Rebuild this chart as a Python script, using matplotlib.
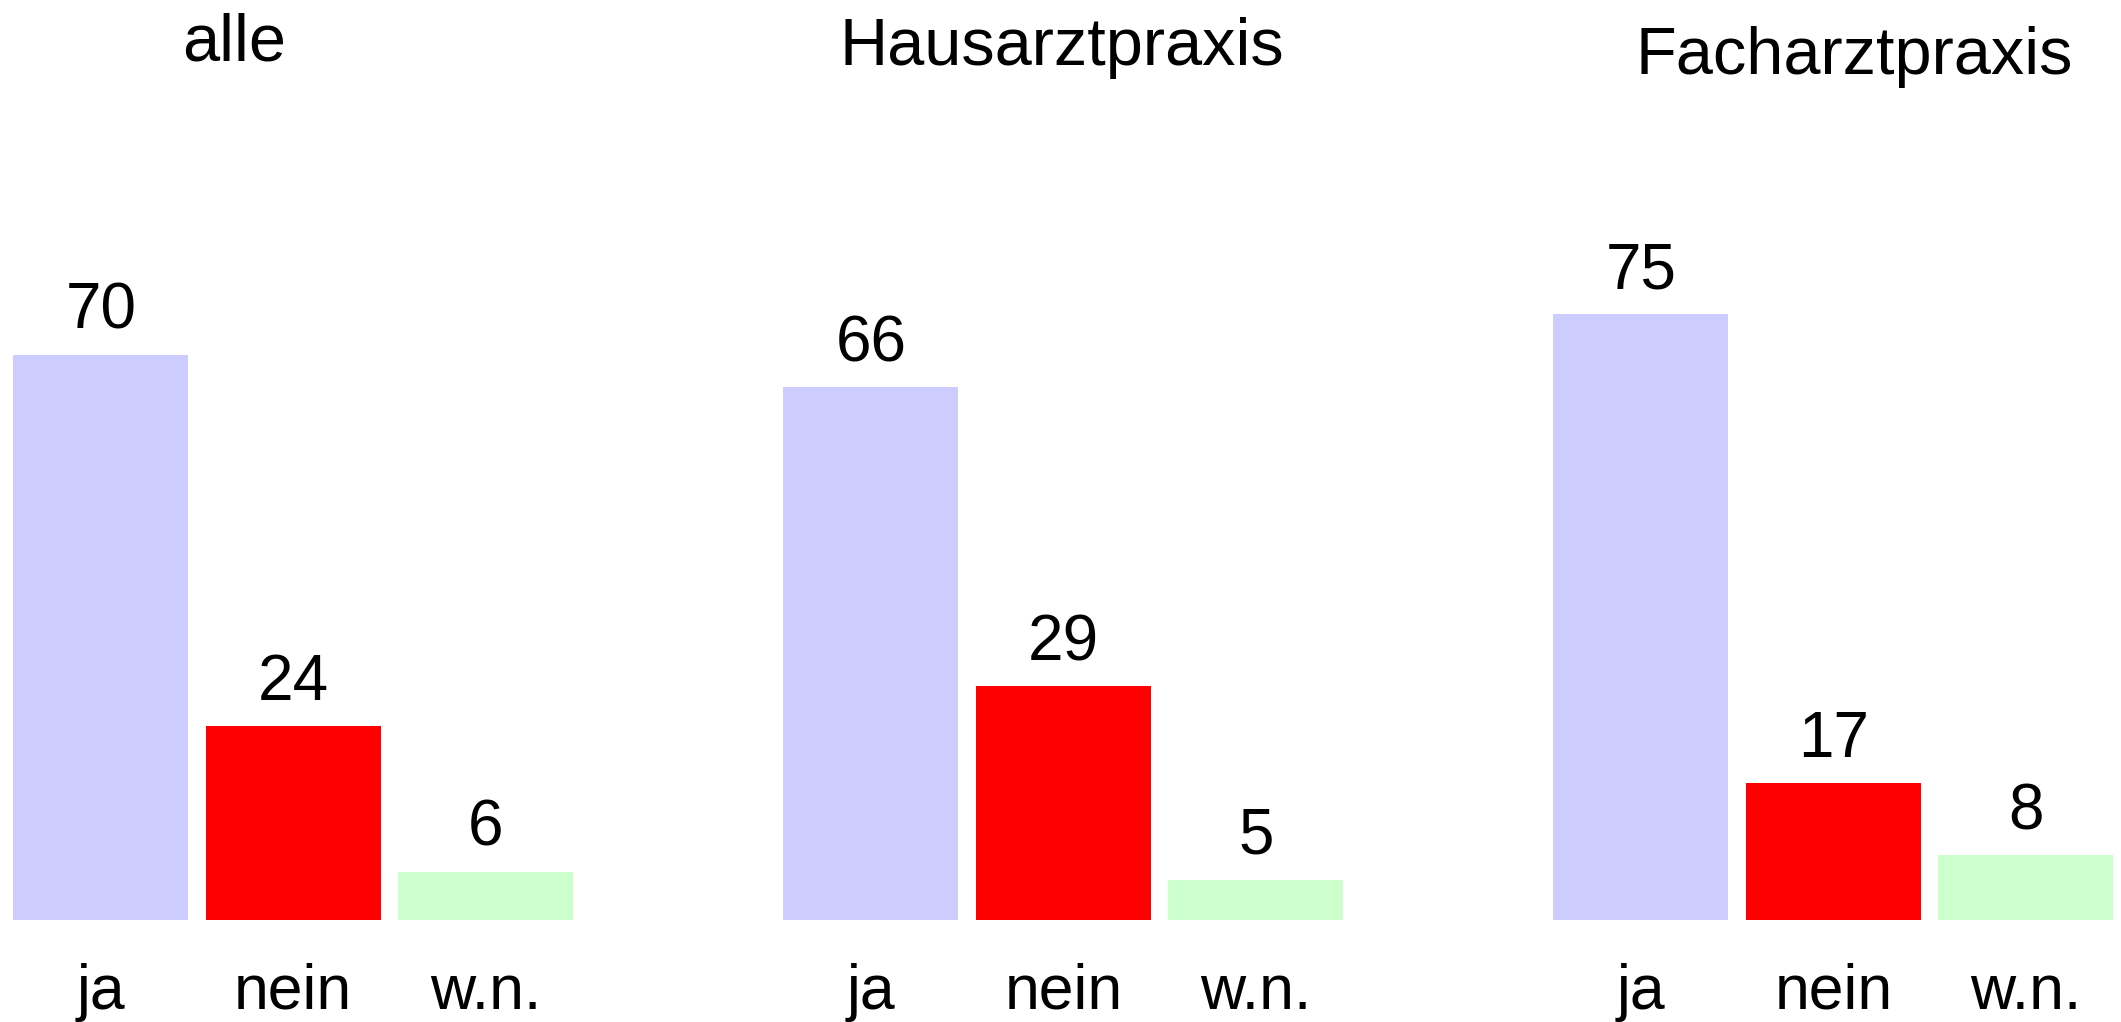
import matplotlib
matplotlib.use("Agg")
import matplotlib.pyplot as plt

# Daten: drei Gruppen, je drei Antworten (Prozent)
groups = ["alle", "Hausarztpraxis", "Facharztpraxis"]
answers = ["ja", "nein", "w.n."]
alle = [70, 24, 6]
hausarzt = [66, 29, 5]
facharzt = [75, 17, 8]

colors = ["#CCCCFF", "#FF0000", "#CCFFCC"]

plt.rcParams["font.family"] = ["Liberation Sans", "DejaVu Sans"]

fig = plt.figure(figsize=(21.21, 10.22), dpi=100)
ax = fig.add_axes([0, 0.0998, 1, 0.9002])

series = [alle, hausarzt, facharzt]
# Titel-Positionen (x in Datenkoordinaten, y etwas unterschiedlich wie im Original)
title_pos = [(0.69, 106.4), (4.99, 105.9), (9.11, 104.8)]

xticks, xlabels = [], []
for g, (name, vals) in enumerate(zip(groups, series)):
    xs = [g * 4 + i for i in range(len(vals))]
    bars = ax.bar(xs, vals, width=0.91, color=colors, linewidth=0)
    for bar, v in zip(bars, vals):
        ax.annotate(str(v), (bar.get_x() + bar.get_width() / 2, v),
                    xytext=(0, 18.5), textcoords="offset points",
                    ha="center", va="baseline", fontsize=46)
    tx, ty = title_pos[g]
    ax.text(tx, ty, name, ha="center", va="baseline", fontsize=48)
    xticks += xs
    xlabels += answers

ax.set_xticks(xticks)
ax.set_xticklabels(xlabels, fontsize=45)
for lab in ax.get_xticklabels():
    lab.set_va("baseline")
ax.tick_params(axis="x", length=0, pad=64)

ax.set_xlim(-0.524, 10.494)
ax.set_ylim(0, 113.9)
ax.set_yticks([])
for s in ax.spines.values():
    s.set_visible(False)
ax.patch.set_alpha(0)

fig.savefig("out.png", dpi=100, facecolor="white")
